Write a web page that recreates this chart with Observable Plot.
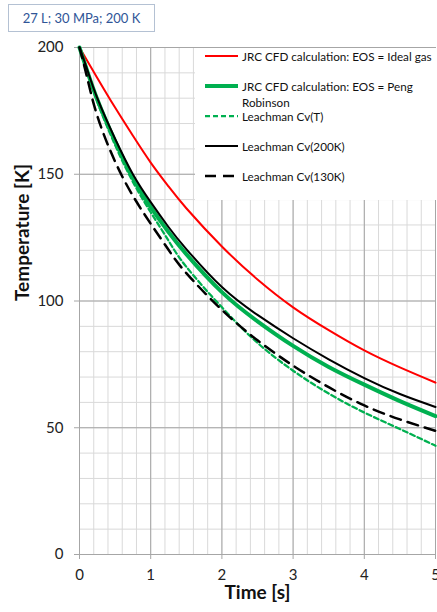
<!DOCTYPE html>
<html><head><meta charset="utf-8">
<script src="https://cdn.jsdelivr.net/npm/d3@7"></script>
<script src="https://cdn.jsdelivr.net/npm/@observablehq/plot@0.6"></script>
<style>
body{margin:0;background:#fff;font-family:Lato,sans-serif;}
#wrap{position:relative;width:437px;height:612px;overflow:hidden;}
#title{position:absolute;left:8px;top:4px;width:147px;height:28px;border:1px solid #b4c1d3;box-sizing:border-box;color:#2f5597;font-size:13px;display:flex;align-items:center;justify-content:center;background:#fff;}
#legend{position:absolute;left:195px;top:48px;width:242px;height:152px;background:#fff;font-size:11.7px;color:#111;}
.row{position:absolute;left:0;height:14px;}
.row svg{position:absolute;left:10px;top:0;}
.row span{position:absolute;left:47px;top:0;white-space:nowrap;line-height:16px;margin-top:-1px;}
</style></head><body>
<div id="wrap"><div id="chart"></div><div id="title">27 L; 30 MPa; 200 K</div><div id="legend"></div></div>
<script>
// Time [s]
const times = [0, 0.1, 0.25, 0.5, 0.75, 1, 1.25, 1.5, 2, 2.5, 3, 3.5, 4, 4.5, 5];
// Temperature [K]
const idealGas    = [200, 195.2, 188, 176.3, 165.2, 154.6, 145.2, 136.6, 121.5, 108.5, 97.5, 88.5, 80.5, 73.8, 67.8];
const pengRobinson= [200, 191.5, 179.5, 163, 148.5, 137, 127.2, 118.5, 103.5, 92, 82.3, 74, 67, 60.5, 54.6];
const leachmanCvT = [200, 191, 178.5, 161.5, 147, 135, 123.8, 113.5, 97.5, 83.5, 72.5, 63.5, 56, 49.5, 42.9];
const leachman200 = [200, 192, 180, 164, 150, 139, 129.2, 120.5, 105.5, 94.5, 85.3, 77, 69.6, 63.3, 58.2];
const leachman130 = [200, 189, 173, 155, 141.5, 130.5, 120.2, 111, 96.5, 84.5, 74.5, 66, 58.8, 53.3, 48.8];

const xTicks = [0, 1, 2, 3, 4, 5];
const yTicks = [0, 50, 100, 150, 200];
const xMinor = d3.range(0, 5.001, 0.2);
const yMinor = d3.range(0, 200.1, 10);

const series = [
  {name: "JRC CFD calculation: EOS = Ideal gas", data: idealGas, stroke: "#ff0000", width: 2, dash: null},
  {name: "JRC CFD calculation: EOS = Peng<br>Robinson", data: pengRobinson, stroke: "#00b050", width: 4, dash: null},
  {name: "Leachman Cv(T)", data: leachmanCvT, stroke: "#00b050", width: 2.25, dash: "5,3"},
  {name: "Leachman Cv(200K)", data: leachman200, stroke: "#000000", width: 2, dash: null},
  {name: "Leachman Cv(130K)", data: leachman130, stroke: "#000000", width: 2.5, dash: "11,7"}
];

const lineMarks = series.map(s => Plot.line(s.data, {
  x: (d, i) => times[i], y: d => d, stroke: s.stroke, strokeWidth: s.width,
  strokeDasharray: s.dash, curve: "natural"
}));

const chart = Plot.plot({
  width: 437, height: 612,
  marginTop: 47, marginLeft: 79, marginRight: 2, marginBottom: 58,
  x: {domain: [0, 5]},
  y: {domain: [0, 200]},
  style: {fontFamily: "Lato, sans-serif", fontSize: "15px", color: "#222", background: "white"},
  marks: [
    Plot.gridX(xMinor, {stroke: "#d9d9d9", strokeOpacity: 1}),
    Plot.gridY(yMinor, {stroke: "#d9d9d9", strokeOpacity: 1}),
    Plot.gridX(xTicks, {stroke: "#a6a6a6", strokeOpacity: 1}),
    Plot.gridY(yTicks, {stroke: "#a6a6a6", strokeOpacity: 1}),
    Plot.axisX(xTicks, {tickSize: 5, tickPadding: 10, label: null, stroke: "#a6a6a6", fontSize: 15}),
    Plot.axisY(yTicks, {tickSize: 5, tickPadding: 11, label: null, stroke: "#a6a6a6", fontSize: 15}),
    ...lineMarks,
    Plot.text(["Time [s]"], {text: d => d, frameAnchor: "bottom", dy: 44, fontWeight: "bold", fontSize: 19, fill: "#111"}),
    Plot.text(["Temperature [K]"], {text: d => d, frameAnchor: "left", dx: -57, rotate: -90, fontWeight: "bold", fontSize: 19, fill: "#111"})
  ]
});
document.getElementById("chart").appendChild(chart);

// legend
const legendRowsY = [8, 38, 68, 98, 128];
const legend = document.getElementById("legend");
series.forEach((s, i) => {
  const row = document.createElement("div");
  row.className = "row";
  row.style.top = (legendRowsY[i] - 7) + "px";
  row.innerHTML = `<svg width="34" height="14"><line x1="0" x2="33" y1="7" y2="7" stroke="${s.stroke}" stroke-width="${s.width}" ${s.dash ? `stroke-dasharray="${s.dash}"` : ""}/></svg><span>${s.name}</span>`;
  legend.appendChild(row);
});
</script>
</body></html>
